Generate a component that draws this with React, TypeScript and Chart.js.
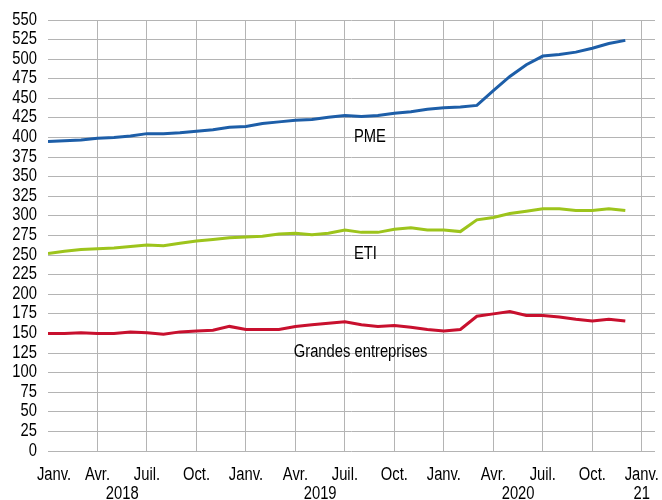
import React, { useEffect, useRef } from "react";
import { Chart, registerables } from "chart.js";

Chart.register(...registerables);

// Monthly data, Jan 2018 .. Dec 2020 (index = months since Jan 2018)
const pmeValues = [395, 396, 397, 399, 400, 402, 405, 405, 406, 408, 410, 413, 414, 418, 420, 422, 423, 426, 428, 427, 428, 431, 433, 436, 438, 439, 441, 460, 478, 493, 504, 506, 509, 514, 520, 524];
const etiValues = [252, 255, 257, 258, 259, 261, 263, 262, 265, 268, 270, 272, 273, 274, 277, 278, 276, 278, 282, 279, 279, 283, 285, 282, 282, 280, 295, 298, 303, 306, 309, 309, 307, 307, 309, 307];
const geValues = [150, 150, 151, 150, 150, 152, 151, 149, 152, 153, 154, 159, 155, 155, 155, 159, 161, 163, 165, 161, 159, 160, 158, 155, 153, 155, 172, 175, 178, 173, 173, 171, 168, 166, 168, 166];

// Quarterly tick labels at months 0, 3, ..., 36
const quarterLabels = ["Janv.", "Avr.", "Juil.", "Oct.", "Janv.", "Avr.", "Juil.", "Oct.", "Janv.", "Avr.", "Juil.", "Oct.", "Janv."];
const yearLabels = ["2018", "2019", "2020", "21"];
const yearLabelMonths = [4.5, 16.5, 28.5, 36];

// Series names drawn next to lines (left-aligned, baseline at value)
const seriesNames = ["PME", "ETI", "Grandes entreprises"];
const seriesNameMonths = [18.55, 18.55, 14.9];
const seriesNameValues = [394, 245, 120];

const FONT = "'Liberation Sans', Arial, sans-serif";
const NARROW = 0.82;
const GRID = "#b4b4b4";

function drawNarrow(ctx: CanvasRenderingContext2D, text: string, x: number, y: number, align: CanvasTextAlign) {
  ctx.save();
  ctx.translate(x, y);
  ctx.scale(NARROW, 1);
  ctx.textAlign = align;
  ctx.textBaseline = "alphabetic";
  ctx.fillText(text, 0, 0);
  ctx.restore();
}

export default function App() {
  const ref = useRef<HTMLCanvasElement | null>(null);

  useEffect(() => {
    if (!ref.current) return;
    const toPts = (arr: number[]) => arr.map((v, i) => ({ x: i, y: v }));

    const textPlugin = {
      id: "texts",
      afterDraw(chart: any) {
        const ctx: CanvasRenderingContext2D = chart.ctx;
        const xs = chart.scales.x;
        const ys = chart.scales.y;
        ctx.save();
        ctx.fillStyle = "#000";
        ctx.font = `18px ${FONT}`;
        // y tick labels
        ys.ticks.forEach((t: any) => {
          drawNarrow(ctx, String(t.value), xs.left - 11, ys.getPixelForValue(t.value) + 4.5, "right");
        });
        // x tick labels
        quarterLabels.forEach((t, i) => {
          const px = xs.getPixelForValue(i * 3) + (i === 0 ? 6 : 0);
          drawNarrow(ctx, t, px, 480, "center");
        });
        yearLabels.forEach((t, i) => {
          drawNarrow(ctx, t, xs.getPixelForValue(yearLabelMonths[i]), 499, "center");
        });
        seriesNames.forEach((t, i) => {
          drawNarrow(ctx, t, xs.getPixelForValue(seriesNameMonths[i]), ys.getPixelForValue(seriesNameValues[i]), "left");
        });
        ctx.restore();
      },
    };

    const chart = new Chart(ref.current, {
      type: "line",
      data: {
        datasets: [
          { label: "PME", data: toPts(pmeValues), borderColor: "#1d5ea8", borderWidth: 3, pointRadius: 0, tension: 0 },
          { label: "ETI", data: toPts(etiValues), borderColor: "#9dc41c", borderWidth: 3, pointRadius: 0, tension: 0 },
          { label: "Grandes entreprises", data: toPts(geValues), borderColor: "#c8102e", borderWidth: 3, pointRadius: 0, tension: 0 },
        ],
      },
      options: {
        animation: false,
        responsive: false,
        devicePixelRatio: 1,
        layout: { padding: { left: 0, right: 7, top: 20, bottom: 0 } },
        plugins: { legend: { display: false }, tooltip: { enabled: false } },
        scales: {
          x: {
            type: "linear",
            min: 0,
            max: 36.8,
            afterBuildTicks(scale: any) {
              scale.ticks = quarterLabels.map((_, i) => ({ value: i * 3 }));
            },
            afterFit(scale: any) {
              scale.height = 49;
              scale.paddingLeft = 0;
              scale.paddingRight = 0;
            },
            ticks: { display: false, autoSkip: false, maxRotation: 0 },
            grid: {
              color: (c: any) => (c.tick && c.tick.value === 0 ? "rgba(0,0,0,0)" : GRID),
              lineWidth: 1,
              drawTicks: false,
            },
            border: { display: false },
          },
          y: {
            min: 0,
            max: 550,
            afterFit(scale: any) {
              scale.width = 48;
              scale.paddingTop = 0;
              scale.paddingBottom = 0;
            },
            ticks: { display: false, stepSize: 25 },
            grid: { color: GRID, lineWidth: 1, drawTicks: false },
            border: { display: false },
          },
        },
      },
      plugins: [textPlugin],
    });
    return () => chart.destroy();
  }, []);

  return (
    <div style={{ position: "absolute", left: 0, top: 0, width: 662, height: 500, background: "#fff" }}>
      <canvas ref={ref} width={662} height={500} style={{ width: 662, height: 500, display: "block" }} />
    </div>
  );
}
